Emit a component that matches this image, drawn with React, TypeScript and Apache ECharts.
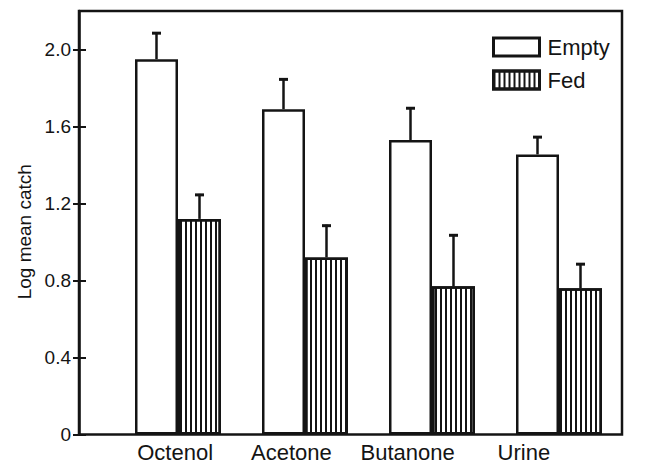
import React, { useEffect, useRef } from "react";
import * as echarts from "echarts";

const categories = ["Octenol", "Acetone", "Butanone", "Urine"];
const emptyMeans = [1.95, 1.69, 1.53, 1.455];
const emptyUpper = [2.09, 1.85, 1.7, 1.55];
const fedMeans = [1.12, 0.92, 0.77, 0.76];
const fedUpper = [1.25, 1.09, 1.04, 0.89];
const yTicks = [0, 0.4, 0.8, 1.2, 1.6, 2.0];

const FONT = "Liberation Sans";
const INK = "#141414";
const BAR_W = 43;

export default function App() {
  const ref = useRef<HTMLDivElement>(null);
  useEffect(() => {
    if (!ref.current) return;
    const chart = echarts.init(ref.current, null, { renderer: "svg" });

    const decal = {
      symbol: "rect",
      symbolSize: 1,
      symbolKeepAspect: false,
      dashArrayX: [2, 2.7],
      dashArrayY: [4, 0],
      color: INK,
      rotation: 0,
    };

    const errRender = (offset: number) => (params: any, api: any) => {
      const idx = api.value(0);
      const base = api.coord([idx, api.value(1)]);
      const top = api.coord([idx, api.value(2)]);
      const x = base[0] + offset;
      return {
        type: "group",
        children: [
          {
            type: "line",
            shape: { x1: x, y1: base[1], x2: x, y2: top[1] },
            style: { stroke: INK, lineWidth: 2.5 },
          },
          {
            type: "line",
            shape: { x1: x - 4.5, y1: top[1] + 1, x2: x + 4.5, y2: top[1] + 1 },
            style: { stroke: INK, lineWidth: 3 },
          },
        ],
      };
    };

    const yMax = 2.2;

    chart.setOption({
      animation: false,
      backgroundColor: "#ffffff",
      textStyle: { fontFamily: FONT, color: INK },
      legend: {
        data: ["Empty", "Fed"],
        orient: "vertical",
        left: 492,
        top: 36,
        padding: 0,
        itemWidth: 46,
        itemHeight: 18,
        itemGap: 11,
        icon: "rect",
        itemStyle: { borderColor: INK, borderWidth: 3 },
        textStyle: { fontFamily: FONT, fontSize: 22, color: INK, padding: [0, 0, 0, 3] },
      },
      grid: [
        { left: 79, right: 43, top: 11, bottom: 31.5, show: true, borderColor: INK, borderWidth: 2.5, backgroundColor: "transparent" },
        { left: 114.5, right: 42.5, top: 11, bottom: 31.5 },
        { left: 117, right: 83, top: 11, bottom: 31.5 },
      ],
      xAxis: [
        { gridIndex: 0, type: "category", data: categories, show: false },
        { gridIndex: 1, type: "category", data: categories, show: false },
        {
          gridIndex: 2,
          type: "category",
          data: categories,
          axisLine: { show: false },
          axisTick: { show: false },
          axisLabel: { interval: 0, fontFamily: FONT, fontSize: 22, color: INK, margin: 7 },
        },
      ],
      yAxis: [
        {
          gridIndex: 0,
          type: "value",
          min: 0,
          max: yMax,
          name: "Log mean catch",
          nameLocation: "middle",
          nameGap: 43,
          nameTextStyle: { fontFamily: FONT, fontSize: 19, color: INK, padding: [0, 18, 0, 0] },
          axisLine: { show: true, lineStyle: { color: INK, width: 2.5 } },
          axisTick: { show: true, inside: false, length: 6, lineStyle: { color: INK, width: 2 }, customValues: yTicks },
          axisLabel: {
            fontFamily: FONT,
            fontSize: 19,
            color: INK,
            margin: 8,
            customValues: yTicks,
            formatter: (v: number) => (v === 0 ? "0" : v.toFixed(1)),
          },
          splitLine: { show: false },
        },
        {
          gridIndex: 0,
          type: "value",
          min: 0,
          max: yMax,
          position: "left",
          axisLine: { show: false },
          axisTick: { show: true, inside: true, length: 7, lineStyle: { color: INK, width: 2 }, customValues: yTicks },
          axisLabel: { show: false },
          splitLine: { show: false },
        },
        { gridIndex: 1, type: "value", min: 0, max: yMax, show: false, splitLine: { show: false } },
        { gridIndex: 2, type: "value", min: 0, max: yMax, show: false, splitLine: { show: false } },
      ],
      series: [
        {
          name: "Empty",
          type: "bar",
          xAxisIndex: 1,
          yAxisIndex: 2,
          data: emptyMeans,
          barWidth: BAR_W,
          barGap: "0%",
          itemStyle: { color: "#ffffff", borderColor: INK, borderWidth: 2.5 },
        },
        {
          name: "Fed",
          type: "bar",
          xAxisIndex: 1,
          yAxisIndex: 2,
          data: fedMeans,
          barWidth: BAR_W,
          barGap: "0%",
          itemStyle: { color: "#ffffff", borderColor: INK, borderWidth: 2.5, decal },
        },
        {
          type: "custom",
          xAxisIndex: 1,
          yAxisIndex: 2,
          renderItem: errRender(-BAR_W / 2),
          data: categories.map((c, i) => [i, emptyMeans[i], emptyUpper[i]]),
          z: 5,
        },
        {
          type: "custom",
          xAxisIndex: 1,
          yAxisIndex: 2,
          renderItem: errRender(BAR_W / 2),
          data: categories.map((c, i) => [i, fedMeans[i], fedUpper[i]]),
          z: 5,
        },
      ],
    });

    return () => chart.dispose();
  }, []);

  return (
    <div
      ref={ref}
      style={{ position: "fixed", left: 0, top: 0, width: 665, height: 466, background: "#fff" }}
    />
  );
}
